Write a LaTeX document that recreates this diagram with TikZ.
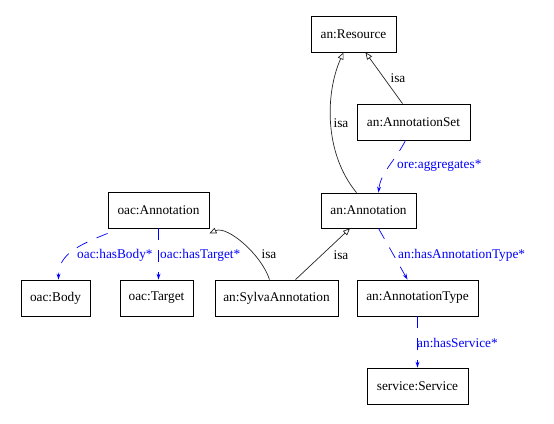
\documentclass[tikz,border=0pt]{standalone}
\usepackage{fontspec}
\setmainfont{Liberation Serif}
\usetikzlibrary{arrows.meta,calc}
\definecolor{relblue}{RGB}{0,0,255}
\tikzset{
  cls/.style={draw,line width=0.8pt,inner sep=0pt,font=\fontsize{13.3}{15}\selectfont},
  isaedge/.style={draw=black!85,line width=0.7pt,-{Triangle[open,length=7pt,width=6pt]}},
  reledge/.style={draw=relblue,line width=0.7pt,dash pattern=on 12pt off 10pt,-{Stealth[open,length=6pt,width=4pt]}},
  isalbl/.style={font=\fontsize{13.3}{15}\selectfont,inner sep=0pt},
  rellbl/.style={font=\fontsize{13.3}{15}\selectfont,text=relblue,inner sep=0pt,anchor=west}
}
\begin{document}
\begin{tikzpicture}[x=1pt,y=-1pt]
\useasboundingbox (0,0) rectangle (554,423);
\node[cls,minimum width=85pt,minimum height=36pt] (res) at (353.5,34) {an:Resource};
\node[cls,minimum width=113pt,minimum height=36pt] (aset) at (413.5,122) {an:AnnotationSet};
\node[cls,minimum width=95pt,minimum height=35pt] (ann) at (368.5,210.5) {an:Annotation};
\node[cls,minimum width=121pt,minimum height=36pt] (atype) at (417.5,298) {an:AnnotationType};
\node[cls,minimum width=101pt,minimum height=36pt] (serv) at (417.5,386) {service:Service};
\node[cls,minimum width=101pt,minimum height=36pt] (oann) at (158.5,210) {oac:Annotation};
\node[cls,minimum width=69pt,minimum height=36pt] (body) at (55.5,298) {oac:Body};
\node[cls,minimum width=73pt,minimum height=36pt] (targ) at (156.5,298) {oac:Target};
\node[cls,minimum width=123pt,minimum height=36pt] (sylva) at (276.5,298) {an:SylvaAnnotation};

% isa edges
\draw[isaedge] ([xshift=-7pt]sylva.north) .. controls +(-8,-25) and +(18,-8) .. ([yshift=-5pt]oann.south east);
\node[isalbl] (l1) at (269,254) {isa};
\draw[isaedge] ([xshift=19pt]sylva.north) -- ([xshift=-18.5pt]ann.south);
\node[isalbl] (l2) at (341,255) {isa};
\draw[isaedge] ([xshift=-12pt]ann.north) .. controls +(-33,-40) and +(-18,40) .. ([xshift=-10pt]res.south);
\node[isalbl] (l3) at (341,123) {isa};
\draw[isaedge] ([xshift=-11pt]aset.north) -- ([xshift=12pt]res.south);
\node[isalbl] (l4) at (398,78) {isa};

% relation edges
\draw[reledge] ([xshift=-8pt]aset.south) .. controls +(-10,20) and +(2,-20) .. ([xshift=10pt]ann.north);
\node[rellbl] (r1) at (397,166) {ore:aggregates*};
\draw[reledge] ([xshift=10pt]ann.south) -- ([xshift=-10pt]atype.north);
\node[rellbl] (r2) at (398,255) {an:hasAnnotationType*};
\draw[reledge] (atype.south) -- (serv.north);
\node[rellbl] (r3) at (417,343) {an:hasService*};
\draw[reledge] ([yshift=-5pt]oann.south west) .. controls +(-30,12) and +(0,-25) .. ([xshift=3pt]body.north);
\node[rellbl] (r4) at (77,255) {oac:hasBody*};
\draw[reledge] ([xshift=0pt]oann.south) -- ([xshift=2pt]targ.north);
\node[rellbl] (r5) at (160,255) {oac:hasTarget*};
\end{tikzpicture}
\end{document}
